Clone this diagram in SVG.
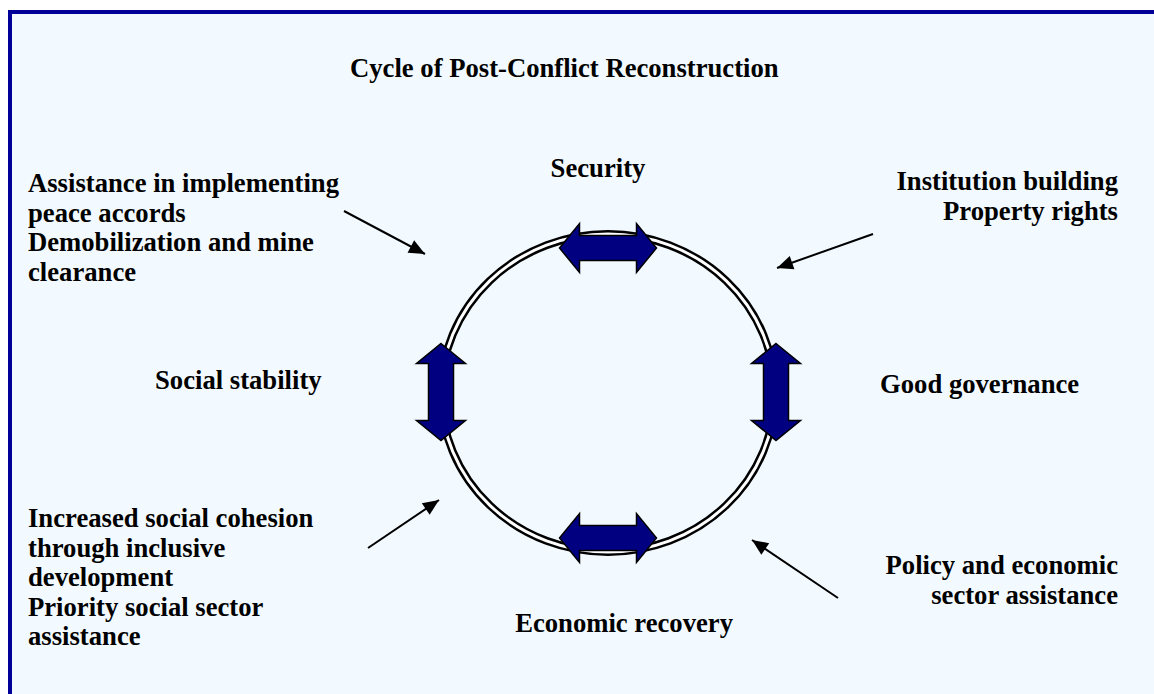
<svg xmlns="http://www.w3.org/2000/svg" width="1154" height="694" viewBox="0 0 1154 694">
<style>
text{font-family:"Liberation Serif","Times New Roman",serif;font-weight:bold;font-size:26.67px;fill:#000}
.mid{text-anchor:middle}
.end{text-anchor:end}
.dbl{fill:#000080;stroke:#000;stroke-width:1.5;stroke-linejoin:miter}
.conn{stroke:#000;stroke-width:2;fill:none}
</style>
<defs>
<path id="harrow" d="M-48.5,0 L-28.5,-24.5 L-28.5,-12.5 L28.5,-12.5 L28.5,-24.5 L48.5,0 L28.5,24.5 L28.5,12.5 L-28.5,12.5 L-28.5,24.5 Z"/>
<marker id="ah" viewBox="-1 -8 18 16" refX="16" refY="0" markerWidth="18" markerHeight="16" markerUnits="userSpaceOnUse" orient="auto">
<path d="M0,-7 L16,0 L0,7 Z" fill="#000"/>
</marker>
</defs>
<rect x="10" y="12" width="1160" height="700" fill="#F3FAFF" stroke="#000099" stroke-width="4"/>
<g id="title"><text x="350" y="77">Cycle of Post-Conflict Reconstruction</text></g>
<g id="ring">
<ellipse cx="608" cy="393" rx="167" ry="159" fill="none" stroke="#000" stroke-width="8"/>
<ellipse cx="608" cy="393" rx="167" ry="159" fill="none" stroke="#fff" stroke-width="3"/>
</g>
<g id="arrow-top"><use href="#harrow" class="dbl" transform="translate(608,248)"/></g>
<g id="arrow-bottom"><use href="#harrow" class="dbl" transform="translate(608,538)"/></g>
<g id="arrow-left"><use href="#harrow" class="dbl" transform="translate(441,392) rotate(90)"/></g>
<g id="arrow-right"><use href="#harrow" class="dbl" transform="translate(776,392) rotate(90)"/></g>
<g id="security"><text class="mid" x="598" y="177">Security</text></g>
<g id="social-stability"><text x="155" y="389">Social stability</text></g>
<g id="good-governance"><text x="880" y="393">Good governance</text></g>
<g id="economic-recovery"><text class="end" x="733" y="632">Economic recovery</text></g>
<g id="note-tl"><text x="28" y="192">Assistance in implementing</text><text x="28" y="221.5">peace accords</text><text x="28" y="251">Demobilization and mine</text><text x="28" y="280.5">clearance</text></g>
<g id="note-tr"><text class="end" x="1118" y="190">Institution building</text><text class="end" x="1118" y="219.5">Property rights</text></g>
<g id="note-bl"><text x="28" y="527">Increased social cohesion</text><text x="28" y="556.5">through inclusive</text><text x="28" y="586">development</text><text x="28" y="615.5">Priority social sector</text><text x="28" y="645">assistance</text></g>
<g id="note-br"><text class="end" x="1118" y="574">Policy and economic</text><text class="end" x="1118" y="603.5">sector assistance</text></g>
<g id="connectors">
<line class="conn" x1="344" y1="211" x2="425" y2="254" marker-end="url(#ah)"/>
<line class="conn" x1="873" y1="234" x2="777" y2="268" marker-end="url(#ah)"/>
<line class="conn" x1="368" y1="548" x2="439" y2="500" marker-end="url(#ah)"/>
<line class="conn" x1="838" y1="598" x2="752" y2="540" marker-end="url(#ah)"/>
</g>
</svg>
